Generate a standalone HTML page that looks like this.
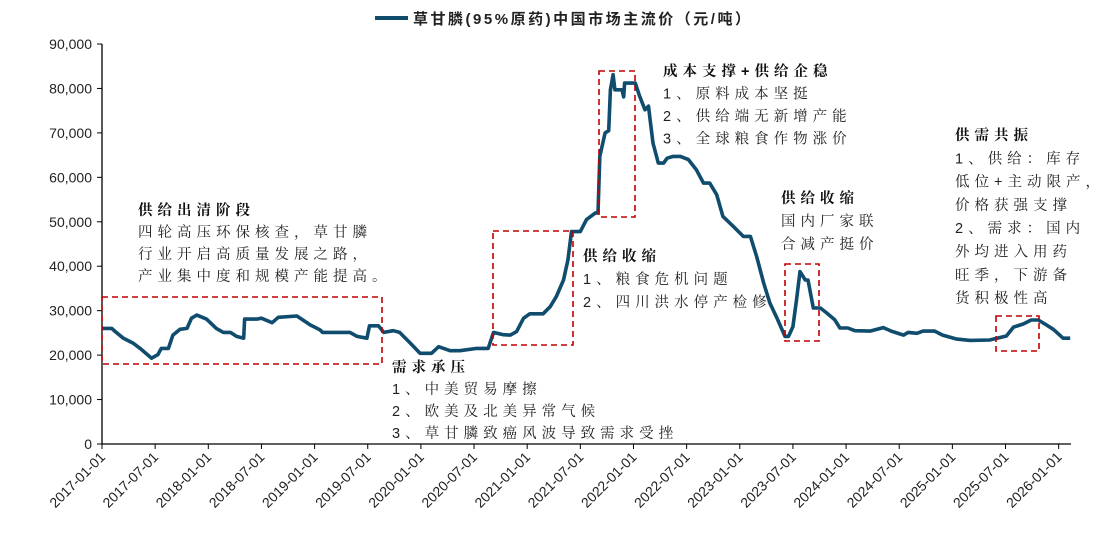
<!DOCTYPE html>
<html><head><meta charset="utf-8"><style>
body{margin:0;background:#fff;}
svg{display:block;}
.ann{font-family:"Liberation Sans","Noto Serif CJK SC","Noto Sans CJK SC",sans-serif;font-size:14.5px;letter-spacing:5px;fill:#222;}
.hd{font-weight:bold;fill:#111;}
.tk{font-family:"Liberation Sans",sans-serif;font-size:14px;fill:#222;}
</style></head><body>
<svg id="chart" width="1111" height="534" viewBox="0 0 1111 534" xmlns="http://www.w3.org/2000/svg"></svg>
<script>
const months = [0,1.1,1.5,2.4,3.5,4.3,5.6,6.3,6.7,7.5,8.0,8.8,9.6,10.1,10.7,11.8,12.9,13.7,14.5,15.2,16.0,16.1,17.5,18.0,19.2,19.9,22.0,23.5,24.6,24.9,28.0,28.8,29.9,30.2,31.2,31.8,32.9,33.6,34.8,35.9,37.2,38.0,39.3,40.4,42.3,43.6,44.2,45.3,46.1,46.8,47.6,48.3,49.8,50.6,51.3,52.1,52.6,53.0,54.0,54.7,55.7,56.0,56.2,56.8,57.2,57.4,57.7,57.9,58.7,58.9,59.0,60.2,60.7,61.3,61.7,61.9,62.2,62.8,63.4,63.8,64.5,65.3,66.2,67.1,67.9,68.6,69.4,70.1,71.3,72.4,73.2,73.9,74.7,75.4,76.2,77.1,77.5,78.0,78.4,78.8,79.4,79.7,80.3,81.1,81.8,82.7,83.3,84.2,85.0,86.7,88.2,89.1,90.5,91.0,92.0,92.7,94.0,94.9,96.5,98.0,100.2,102.1,102.9,104.0,104.9,105.7,106.6,107.4,108.5,109.3];
const prices = [26000,26000,25300,23800,22700,21500,19300,20100,21500,21500,24500,25800,26000,28300,29000,28100,26000,25100,25100,24200,23800,28100,28100,28300,27300,28500,28800,26800,25700,25100,25100,24200,23800,26600,26600,25100,25500,25100,22700,20400,20400,21900,21000,21000,21500,21500,25100,24600,24500,25300,28300,29300,29300,30900,33200,36900,41400,47800,47800,50500,52000,52000,64700,70000,70500,79700,83100,79700,79700,78100,81200,81200,78200,75200,76000,72600,67700,63200,63200,64300,64700,64700,64000,61700,58700,58700,56100,51200,48900,46700,46700,42200,36200,31700,28300,24200,24200,26400,32400,38800,36900,36900,30600,30600,29500,28000,26100,26100,25500,25400,26200,25400,24500,25100,24900,25400,25400,24500,23600,23300,23400,24300,26300,27000,27900,27900,26800,25800,23800,23800];
const yTicks = [0,10000,20000,30000,40000,50000,60000,70000,80000,90000];
const xTickLabels = ["2017-01-01","2017-07-01","2018-01-01","2018-07-01","2019-01-01","2019-07-01","2020-01-01","2020-07-01","2021-01-01","2021-07-01","2022-01-01","2022-07-01","2023-01-01","2023-07-01","2024-01-01","2024-07-01","2025-01-01","2025-07-01","2026-01-01"];

const svg = document.getElementById('chart');
const NS = 'http://www.w3.org/2000/svg';
const X0 = 102, PXM = 8.858, Y0 = 444, PXV = 400/90000;
function xs(m){ return X0 + m*PXM; }
function ys(v){ return Y0 - v*PXV; }
function mk(tag, attrs, parent){ const e=document.createElementNS(NS,tag); for(const k in attrs) e.setAttribute(k,attrs[k]); (parent||svg).appendChild(e); return e; }

const ya = mk('line',{x1:X0,y1:44,x2:X0,y2:Y0,stroke:'#000','stroke-width':1.3});
 
const xa = mk('line',{x1:X0,y1:Y0,x2:1071,y2:Y0,stroke:'#000','stroke-width':1.3});
 

yTicks.forEach(v=>{
  const y=ys(v);
  const t=mk('line',{x1:X0-5,y1:y,x2:X0,y2:y,stroke:'#000','stroke-width':1});
   
  const l=mk('text',{x:X0-10,y:y+5,'text-anchor':'end',class:'tk'});
   
  l.textContent = v.toLocaleString('en-US');
});
xTickLabels.forEach((s,i)=>{
  const x=xs(i*6);
  const t=mk('line',{x1:x,y1:Y0,x2:x,y2:Y0+5,stroke:'#000','stroke-width':1});
   
  const l=mk('text',{x:x+4,y:Y0+14,'text-anchor':'end',class:'tk',transform:`rotate(-45 ${x+4} ${Y0+14})`});
   
  l.textContent=s;
});

let d='';
months.forEach((m,i)=>{ d += (i?'L':'M')+xs(m).toFixed(1)+' '+ys(prices[i]).toFixed(1); });
const line = mk('path',{d:d,fill:'none',stroke:'#0f4c6e','stroke-width':3.6,'stroke-linejoin':'round'});
 

const lg = mk('line',{x1:375,y1:18,x2:408,y2:18,stroke:'#0f4c6e','stroke-width':4});
 
const lt = mk('text',{x:413,y:24,textLength:337,lengthAdjust:'spacing',style:'font-size:15px;font-weight:bold;fill:#222;font-family:"Liberation Sans","Noto Sans CJK SC",sans-serif'});
 
lt.textContent='草甘膦(95%原药)中国市场主流价（元/吨）';

[[102,297,382,364],[493,231,573,345],[599,71,635,217],[785,264,819,341],[996,316,1039,351]].forEach(b=>{
  const r=mk('rect',{x:b[0],y:b[1],width:b[2]-b[0],height:b[3]-b[1],fill:'none',stroke:'#c00000','stroke-width':1.6,'stroke-dasharray':'6 4'});
   
});

const notes = [
 [138,215,22,['供给出清阶段','四轮高压环保核查，草甘膦','行业开启高质量发展之路，','产业集中度和规模产能提高。']],
 [392,372,22,['需求承压','1、中美贸易摩擦','2、欧美及北美异常气候','3、草甘膦致癌风波导致需求受挫']],
 [663,76,22.5,['成本支撑+供给企稳','1、原料成本坚挺','2、供给端无新增产能','3、全球粮食作物涨价']],
 [583,261,23,['供给收缩','1、粮食危机问题','2、四川洪水停产检修']],
 [781,203,23,['供给收缩','国内厂家联','合减产挺价']],
 [955,140,23.3,['供需共振','1、供给：库存','低位+主动限产，','价格获强支撑','2、需求：国内','外均进入用药','旺季，下游备','货积极性高']]
];
notes.forEach(n=>{
  const g=mk('g',{});
   
  n[3].forEach((s,i)=>{
    const t=mk('text',{x:n[0],y:n[1]+i*n[2],class:i?'ann':'ann hd'},g);
    
    
    t.textContent=s;
  });
});
</script>
</body></html>
